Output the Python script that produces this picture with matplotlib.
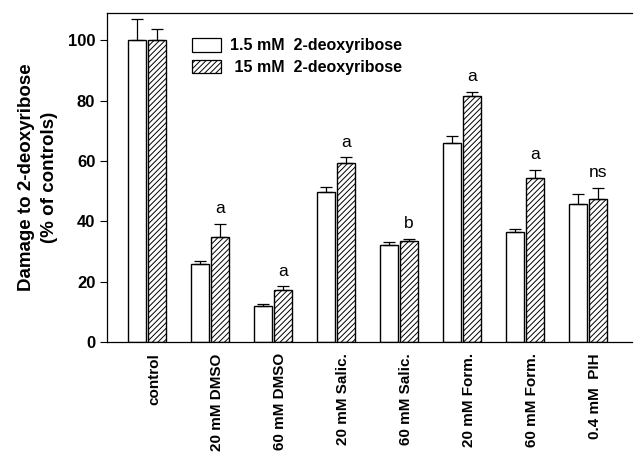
import numpy as np
import matplotlib
matplotlib.use("Agg")
import matplotlib.pyplot as plt
from matplotlib.patches import Patch

plt.rcParams['font.family'] = ['Liberation Sans', 'DejaVu Sans']
plt.rcParams['hatch.color'] = '#555555'
plt.rcParams['hatch.linewidth'] = 0.7

# data
groups = ['control', '20 mM DMSO', '60 mM DMSO', '20 mM Salic.', '60 mM Salic.',
          '20 mM Form.', '60 mM Form.', '0.4 mM  PIH']
low_vals = [100, 25.7, 11.9, 49.8, 32.3, 65.8, 36.3, 45.6]
low_err = [7.0, 1.3, 0.6, 1.7, 0.7, 2.5, 1.3, 3.6]
high_vals = [100, 34.7, 17.4, 59.2, 33.5, 81.7, 54.2, 47.5]
high_err = [3.6, 4.4, 1.0, 2.1, 0.8, 1.3, 2.9, 3.7]
marks = ['', 'a', 'a', 'a', 'b', 'a', 'a', 'ns']
series_names = ['1.5 mM  2-deoxyribose', ' 15 mM  2-deoxyribose']

x = np.arange(len(groups))
w = 0.29
off = 0.16

fig = plt.figure(figsize=(6.34, 4.53), dpi=100)
ax = fig.add_axes([0.169, 0.245, 0.828, 0.726])

ax.bar(x - off, low_vals, w, color='white', edgecolor='black', linewidth=1.0)
ax.bar(x + off, high_vals, w, color='white', edgecolor='black', linewidth=1.0, hatch='//////')
ax.errorbar(x - off, low_vals, yerr=[np.zeros(len(x)), low_err], fmt='none',
            ecolor='black', elinewidth=0.9, capsize=4, capthick=0.9)
ax.errorbar(x + off, high_vals, yerr=[np.zeros(len(x)), high_err], fmt='none',
            ecolor='black', elinewidth=0.9, capsize=4, capthick=0.9)

# significance letters
for i in range(len(x)):
    if marks[i]:
        ax.text(x[i] + off, high_vals[i] + high_err[i] + 2.5, marks[i],
                ha='center', va='bottom', fontsize=12.5)

ax.set_xlim(-0.635, 7.70)
ax.set_ylim(0, 109)
ax.set_yticks([0, 20, 40, 60, 80, 100])
ax.set_yticklabels(['0', '20', '40', '60', '80', '100'], fontsize=12, fontweight='bold')
ax.set_xticks(x + 0.11)
ax.set_xticklabels(groups, rotation=90, fontsize=11, fontweight='bold', ha='center', va='top')
ax.tick_params(axis='x', length=0, pad=8)
ax.tick_params(axis='y', length=5, width=0.8, direction='out')

ax.set_ylabel('Damage to 2-deoxyribose\n(% of controls)', fontsize=13.5, fontweight='bold',
              linespacing=1.45)
ax.yaxis.set_label_coords(-0.094, 0.5)

ax.spines['right'].set_visible(False)
for s in ['left', 'bottom', 'top']:
    ax.spines[s].set_linewidth(0.9)

handles = [Patch(facecolor='white', edgecolor='black', linewidth=0.9),
           Patch(facecolor='white', edgecolor='black', linewidth=0.9, hatch='//////')]
fig.legend(handles, series_names, loc='upper left', bbox_to_anchor=(0.291, 0.934),
           frameon=False, prop={'weight': 'bold', 'size': 11.5},
           handlelength=1.8, handleheight=0.95, handletextpad=0.55, labelspacing=0.4,
           borderpad=0)

fig.savefig('out.png', dpi=100)
